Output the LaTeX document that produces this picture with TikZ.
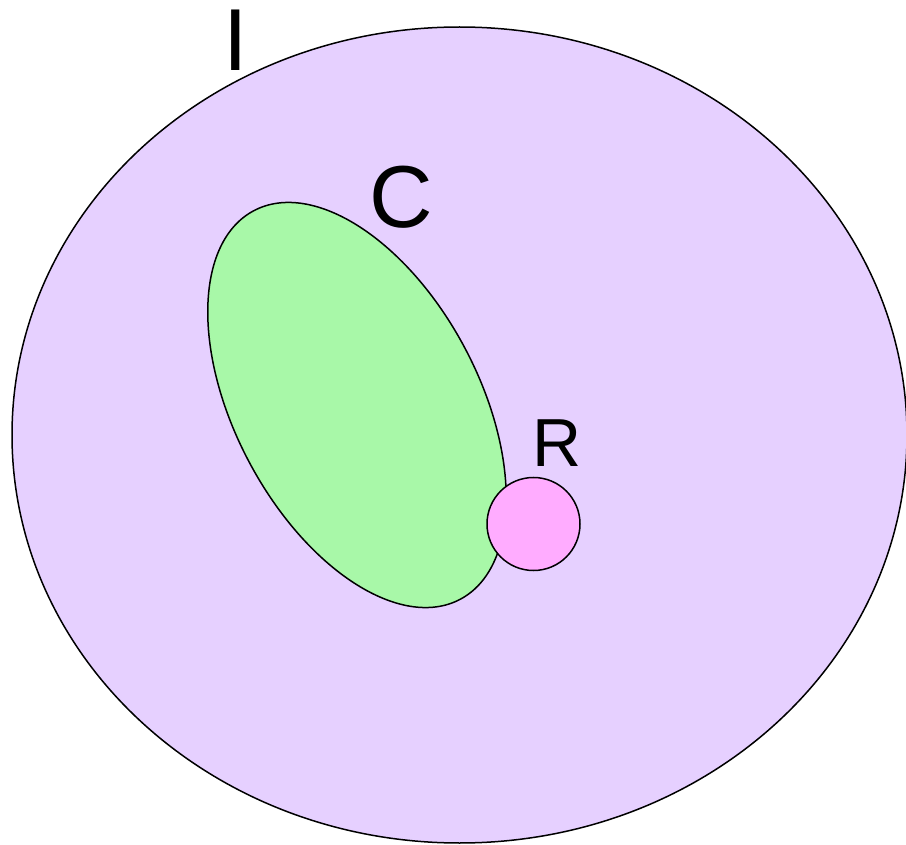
\documentclass[tikz,border=0pt]{standalone}
\usepackage{fontspec}
\setmainfont{Liberation Sans}
\usetikzlibrary{shapes.geometric}
\definecolor{setI}{RGB}{230,208,255}
\definecolor{setC}{RGB}{168,248,168}
\definecolor{setR}{RGB}{255,172,255}
\begin{document}
\begin{tikzpicture}[x=1pt,y=-1pt,
  region/.style={draw=black, line width=1.5pt, inner sep=0pt, outer sep=0pt},
  lbl/.style={inner sep=0pt, outer sep=0pt, text=black}]
\useasboundingbox (0,0) rectangle (906,845);
\begin{scope}
\clip (0,0) rectangle (906,845);
\node[region, ellipse, fill=setI, minimum width=895pt, minimum height=816pt] (I) at (459.5,435) {};
\end{scope}
\node[region, ellipse, fill=setC, minimum width=440pt, minimum height=244pt, rotate=-62] (C) at (357,405) {};
\node[region, circle, fill=setR, minimum size=93pt] (R) at (533.5,524) {};
\node[lbl, font=\fontsize{88}{88}\selectfont] (lI) at (235.5,40) {I};
\node[lbl, font=\fontsize{88}{88}\selectfont] (lC) at (401.5,197.5) {C};
\node[lbl, font=\fontsize{68}{68}\selectfont] (lR) at (557,443.5) {R};
\end{tikzpicture}
\end{document}
